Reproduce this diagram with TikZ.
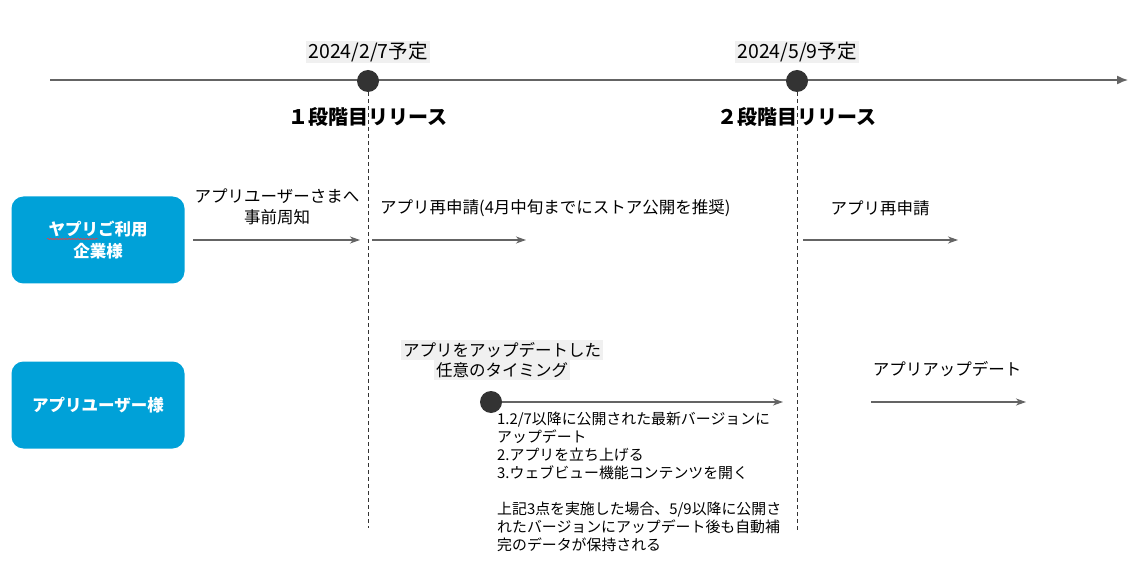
\documentclass[tikz,border=0pt]{standalone}
\usepackage{fontspec}
\setmainfont{Noto Sans CJK JP}
\usetikzlibrary{arrows,arrows.meta,positioning,decorations.pathmorphing}
\definecolor{ypblue}{RGB}{0,161,216}
\definecolor{ypgray}{RGB}{100,100,100}
\definecolor{ypdark}{RGB}{51,51,51}
\definecolor{yplabelbg}{RGB}{240,240,240}
\tikzstyle{actor} = [rectangle, rounded corners=12pt, minimum width=173pt, minimum height=87pt, fill=ypblue, text=white, align=center, font=\bfseries\fontsize{16.5}{22}\selectfont]
\tikzstyle{milestone} = [circle, fill=ypdark, minimum size=22pt, inner sep=0pt]
\tikzstyle{arrow} = [-{Stealth[length=10pt, width=7pt, inset=3pt]}, color=ypgray, line width=1.1pt]
\tikzstyle{guide} = [dash pattern=on 4pt off 3pt, color=ypdark, line width=0.8pt]
\tikzstyle{note} = [inner sep=0pt, align=center, font=\fontsize{16.5}{21}\selectfont]
\tikzstyle{textbg} = [fill=yplabelbg, inner sep=2pt, font=\fontsize{16.5}{20}\selectfont]
\tikzstyle{datelabel} = [fill=yplabelbg, inner xsep=2pt, inner ysep=1pt, font=\fontsize{19.5}{22}\selectfont]
\tikzstyle{phase} = [inner sep=0pt, font=\bfseries\fontsize{20}{24}\selectfont]

\begin{document}
\begin{tikzpicture}[x=1pt, y=-1pt]
\useasboundingbox (0,0) rectangle (1148,585);

% Timeline
\coordinate (tl_start) at (50,80);
\coordinate (tl_end) at (1128,80);
\draw[color=ypgray, line width=1.4pt, -{Latex[length=11pt, width=9pt]}] (tl_start) -- (tl_end);

\node[milestone] (ms1) at (368,81) {};
\node[milestone] (ms2) at (797,81) {};
\node[datelabel] (ms1_date) at (368,52) {2024/2/7予定};
\node[datelabel] (ms2_date) at (797,52) {2024/5/9予定};

\coordinate (ms1_end) at (368,528);
\coordinate (ms2_end) at (797,530);
\draw[guide] (ms1) -- (ms1_end);
\draw[guide] (ms2) -- (ms2_end);

\node[phase] (ms1_title) at (368,117) {１段階目リリース};
\node[phase] (ms2_title) at (797,117) {２段階目リリース};

% Actors
\node[actor] (client) at (98,240) {ヤプリご利用\\企業様};
\node[actor] (user) at (98,405) {アプリユーザー様};
\coordinate (wv_s) at (47,239);
\coordinate (wv_e) at (98,239);
\draw[red!80, line width=0.5pt, decorate, decoration={snake, amplitude=0.7pt, segment length=3pt}] (wv_s) -- (wv_e);

% Client row
\coordinate (c1_s) at (193,240);
\coordinate (c1_e) at (360,240);
\coordinate (c2_s) at (372,240);
\coordinate (c2_e) at (526,240);
\coordinate (c3_s) at (803,240);
\coordinate (c3_e) at (958,240);
\draw[arrow] (c1_s) -- (c1_e);
\draw[arrow] (c2_s) -- (c2_e);
\draw[arrow] (c3_s) -- (c3_e);
\node[note] (c1_label) at (277,207) {アプリユーザーさまへ\\事前周知};
\node[note, anchor=west] (c2_label) at (380,208) {アプリ再申請(4月中旬までにストア公開を推奨)};
\node[note] (c3_label) at (880,208) {アプリ再申請};

% User row
\node[textbg] (u_when1) at (502,350) {アプリをアップデートした};
\node[textbg] (u_when2) at (502,370) {任意のタイミング};
\node[milestone] (u_dot) at (491,402) {};
\coordinate (u1_e) at (783,402);
\draw[arrow] (u_dot) -- (u1_e);
\node[inner sep=0pt, anchor=north west, align=left, font=\fontsize{14.9}{18}\selectfont] (u_steps) at (497,412) {1.2/7以降に公開された最新バージョンに\\アップデート\\2.アプリを立ち上げる\\3.ウェブビュー機能コンテンツを開く\\[18pt]上記3点を実施した場合、5/9以降に公開さ\\れたバージョンにアップデート後も自動補\\完のデータが保持される};
\coordinate (u2_s) at (871,402);
\coordinate (u2_e) at (1026,402);
\draw[arrow] (u2_s) -- (u2_e);
\node[note] (u2_label) at (947,369) {アプリアップデート};
\end{tikzpicture}
\end{document}
